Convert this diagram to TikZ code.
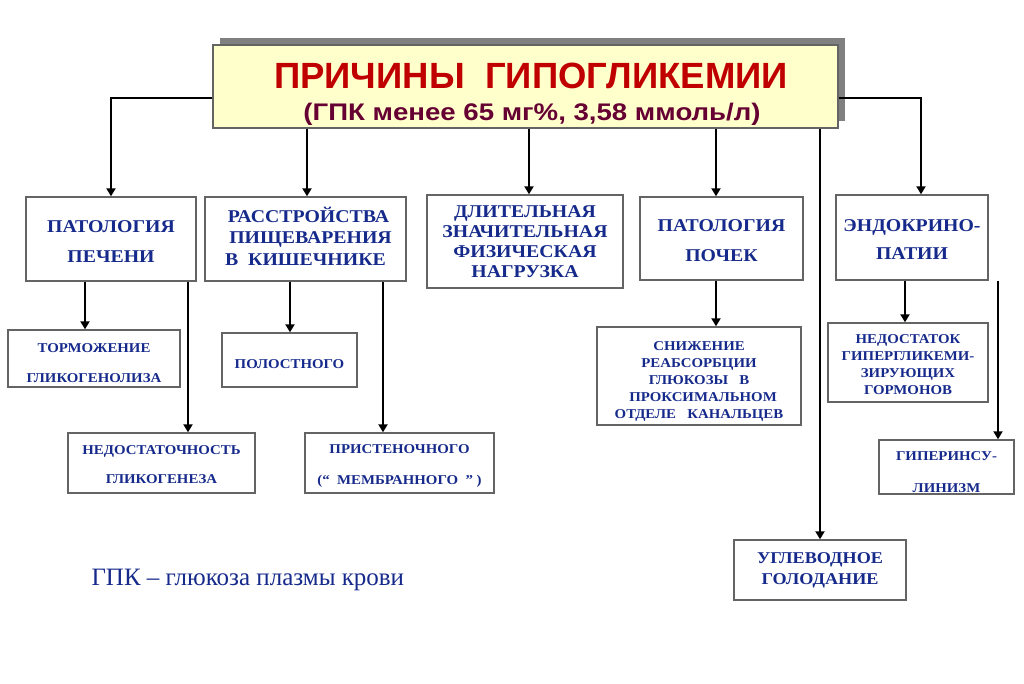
\documentclass[tikz,border=0pt]{standalone}
\usepackage{fontspec}
\setmainfont{Liberation Serif}[FakeStretch=1.1]
\newfontfamily\notefont{Liberation Serif}
\newfontfamily\titlefont{Liberation Sans}
\newfontfamily\subfont{Liberation Sans}[FakeStretch=1.15]
\usetikzlibrary{arrows.meta}
\definecolor{txtblue}{RGB}{22,42,140}
\definecolor{titlered}{RGB}{192,0,0}
\definecolor{subred}{RGB}{102,0,51}
\definecolor{boxgray}{RGB}{100,100,100}
\definecolor{titlefill}{RGB}{255,255,204}
\definecolor{shadowgray}{RGB}{128,128,128}
\tikzset{
 box/.style={draw=boxgray, line width=1.4pt, fill=white, inner sep=0pt},
 every label/.style={text=txtblue, align=center, inner sep=0pt},
 big/.style={font=\bfseries\fontsize{18}{#1}\selectfont},
 small/.style={font=\bfseries\fontsize{13.5}{#1}\selectfont},
 arr/.style={line width=2.2pt, -{Triangle[length=8pt,width=9pt]}},
}
\begin{document}
\begin{tikzpicture}[x=1pt,y=-1pt]
\useasboundingbox[fill=white] (0,0) rectangle (1024,683);
% title
\fill[shadowgray] (220,38) rectangle (845,121);
\node[draw=boxgray, line width=1.4pt, fill=titlefill, minimum width=625pt, minimum height=83pt, inner sep=0pt] (T) at (525.5,86.5) {};
\node[anchor=base, text=titlered, font=\titlefont\bfseries\fontsize{36.5}{40}\selectfont] (t1) at (531,88) {ПРИЧИНЫ\ \ ГИПОГЛИКЕМИИ};
\node[anchor=base, text=subred, font=\subfont\bfseries\fontsize{24}{26}\selectfont] (t2) at (532,120) {(ГПК менее 65 мг\%, 3,58 ммоль/л)};
% first row
\node[box, minimum width=170pt, minimum height=84pt,
  label={[big=30, yshift=-3pt]center:{ПАТОЛОГИЯ\\ПЕЧЕНИ}}] (B1) at (111,239) {};
\node[box, minimum width=201pt, minimum height=84pt,
  label={[big=21.5, yshift=3pt]center:{\hspace{6pt}РАССТРОЙСТВА\\\hspace{10pt}ПИЩЕВАРЕНИЯ\\В\ \ КИШЕЧНИКЕ\hspace{18pt}}}] (B2) at (305.5,239) {};
\node[box, minimum width=196pt, minimum height=93pt,
  label={[big=20]center:{ДЛИТЕЛЬНАЯ\\ЗНАЧИТЕЛЬНАЯ\\ФИЗИЧЕСКАЯ\\НАГРУЗКА}}] (B3) at (525,241.5) {};
\node[box, minimum width=163pt, minimum height=83pt,
  label={[big=30, yshift=-2pt]center:{ПАТОЛОГИЯ\\ПОЧЕК\hspace{24pt}}}] (B4) at (721.5,238.5) {};
\node[box, minimum width=152pt, minimum height=85pt,
  label={[big=28, yshift=-2pt]center:{ЭНДОКРИНО-\\ПАТИИ}}] (B5) at (912,237.5) {};
% second row
\node[box, minimum width=172pt, minimum height=57pt,
  label={[small=30, yshift=-5pt]center:{ТОРМОЖЕНИЕ\hspace{8pt}\\ГЛИКОГЕНОЛИЗА}}] (S1) at (94,358.5) {};
\node[box, minimum width=135pt, minimum height=54pt,
  label={[small=16, yshift=-4pt]center:{ПОЛОСТНОГО}}] (S2) at (289.5,360) {};
\node[box, minimum width=187pt, minimum height=60pt,
  label={[small=29, yshift=-2pt]center:{НЕДОСТАТОЧНОСТЬ\\ГЛИКОГЕНЕЗА}}] (S3) at (161.5,463) {};
\node[box, minimum width=189pt, minimum height=60pt,
  label={[small=31, yshift=-3pt]center:{ПРИСТЕНОЧНОГО\\(“\ \ МЕМБРАННОГО\ \ ” )}}] (S4) at (399.5,463) {};
\node[box, minimum width=204pt, minimum height=98pt,
  label={[small=17, yshift=-5pt]center:{СНИЖЕНИЕ\\РЕАБСОРБЦИИ\\ГЛЮКОЗЫ\ \ \ В\\\hspace{8pt}ПРОКСИМАЛЬНОМ\\ОТДЕЛЕ\ \ \ КАНАЛЬЦЕВ}}] (S5) at (699,376) {};
\node[box, minimum width=160pt, minimum height=79pt,
  label={[small=17, yshift=-2pt]center:{НЕДОСТАТОК\\ГИПЕРГЛИКЕМИ-\\ЗИРУЮЩИХ\\ГОРМОНОВ}}] (S6) at (908,362.5) {};
\node[box, minimum width=135pt, minimum height=54pt,
  label={[small=32, yshift=-5pt]center:{ГИПЕРИНСУ-\\ЛИНИЗМ}}] (S7) at (946.5,467) {};
\node[box, minimum width=172pt, minimum height=60pt,
  label={[font=\bfseries\fontsize{16.5}{21}\selectfont]center:{УГЛЕВОДНОЕ\\ГОЛОДАНИЕ}}] (S8) at (820,570) {};
% footnote
\node[anchor=base west, text=txtblue, font=\notefont\fontsize{25}{27}\selectfont] (fn) at (88,585) {ГПК – глюкоза плазмы крови};
% connectors from title
\draw[arr] (T.west |- 0,98) -| (B1.north);
\draw[arr] (T.east |- 0,98) -| (B5.north -| 921,0);
\draw[arr] (T.south -| 307,0) -- (B2.north -| 307,0);
\draw[arr] (T.south -| 529,0) -- (B3.north -| 529,0);
\draw[arr] (T.south -| 716,0) -- (B4.north -| 716,0);
\draw[arr] (T.south -| 820,0) -- (S8.north -| 820,0);
% second level
\draw[arr] (B1.south -| 85,0) -- (S1.north -| 85,0);
\draw[arr] (B1.south -| 188,0) -- (S3.north -| 188,0);
\draw[arr] (B2.south -| 290,0) -- (S2.north -| 290,0);
\draw[arr] (B2.south -| 383,0) -- (S4.north -| 383,0);
\draw[arr] (B4.south -| 716,0) -- (S5.north -| 716,0);
\draw[arr] (B5.south -| 905,0) -- (S6.north -| 905,0);
\draw[arr] (B5.south -| 998,0) -- (S7.north -| 998,0);
\end{tikzpicture}
\end{document}
